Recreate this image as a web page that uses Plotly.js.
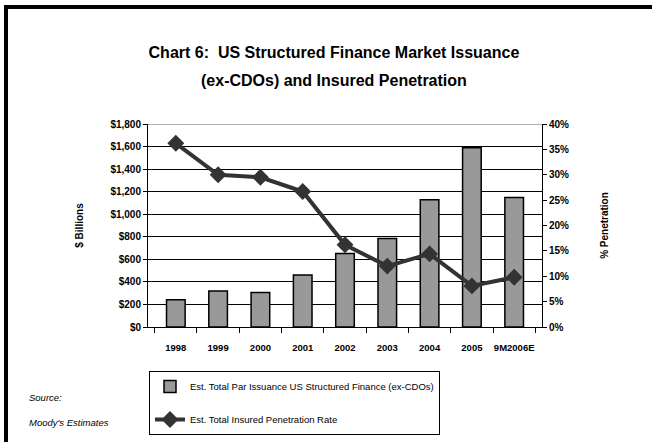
<!DOCTYPE html>
<html>
<head>
<meta charset="utf-8">
<script src="https://cdn.plot.ly/plotly-3.0.1.min.js"></script>
<style>
  html, body { margin: 0; padding: 0; background: #fff; }
  #wrap { position: relative; width: 652px; height: 442px; }
  #chart { width: 652px; height: 442px; }
  .bd { position: absolute; background: #000; pointer-events: none; }
</style>
</head>
<body>
<div id="wrap">
  <div id="chart"></div>
  <div class="bd" style="left:4px; top:5px; width:648px; height:4px;"></div>
  <div class="bd" style="left:4px; top:5px; width:4px; height:437px;"></div>
</div>
<script>
const categories = ["1998", "1999", "2000", "2001", "2002", "2003", "2004", "2005", "9M2006E"];
const issuance = [242, 320, 306, 462, 652, 785, 1128, 1590, 1148];
const penetration = [36.2, 30.0, 29.5, 26.7, 16.2, 12.0, 14.4, 8.1, 9.8];
const barName = "Est. Total Par Issuance US Structured Finance (ex-CDOs)";
const lineName = "Est. Total Insured Penetration Rate";

const F = "'Liberation Sans', Arial, sans-serif";

const traces = [
  {
    type: "bar", x: categories, y: issuance, name: barName, legendgroup: "a",
    marker: { color: "#999999", line: { color: "#000000", width: 1.5 } },
    hoverinfo: "x+y"
  },
  {
    type: "scatter", mode: "lines+markers", x: categories, y: penetration, name: lineName,
    legendgroup: "b", yaxis: "y2",
    line: { color: "#333333", width: 4 },
    marker: { symbol: "diamond", size: 13, color: "#333333" }
  }
];

const layout = {
  width: 652, height: 442,
  margin: { l: 148, r: 110, t: 124, b: 115 },
  paper_bgcolor: "#ffffff", plot_bgcolor: "#ffffff",
  font: { family: F, color: "#000000", size: 10 },
  bargap: 0.56,
  showlegend: true,
  title: {
    text: "<b>Chart 6:&nbsp; US Structured Finance Market Issuance</b>",
    font: { family: F, size: 16, color: "#000000" },
    xref: "paper", x: 0.472, xanchor: "center",
    yref: "container", y: 1 - 52 / 442, yanchor: "middle"
  },
  annotations: [
    { text: "<b>(ex-CDOs) and Insured Penetration</b>", xref: "paper", yref: "paper",
      x: 0.472, y: (327 - 80) / 203, xanchor: "center", yanchor: "middle", showarrow: false,
      font: { family: F, size: 16, color: "#000000" } },
    { text: "<i>Source:</i>", xref: "paper", yref: "paper",
      x: (27 - 148) / 394, y: (327 - 397) / 203, xanchor: "left", yanchor: "middle",
      showarrow: false, font: { family: F, size: 9.5 } },
    { text: "<i>Moody's Estimates</i>", xref: "paper", yref: "paper",
      x: (27 - 148) / 394, y: (327 - 422) / 203, xanchor: "left", yanchor: "middle",
      showarrow: false, font: { family: F, size: 9.5 } }
  ],
  shapes: [
    { type: "line", xref: "paper", yref: "y", x0: 0, x1: 1, y0: 1800, y1: 1800,
      line: { color: "#999999", width: 1.5 }, layer: "below" }
  ],
  xaxis: {
    type: "category", tickangle: 0,
    tickson: "boundaries", ticks: "outside", ticklen: 5, tickcolor: "#000", tickwidth: 1,
    ticklabelstandoff: 12,
    showline: true, linecolor: "#000", linewidth: 1,
    showgrid: false,
    tickfont: { family: F, size: 9.5, weight: "bold" }
  },
  yaxis: {
    range: [0, 1800], dtick: 200, tickprefix: "$", tickformat: ",",
    ticks: "outside", ticklen: 4, tickcolor: "#000",
    showline: true, linecolor: "#000", linewidth: 1,
    showgrid: true, gridcolor: "#000000", gridwidth: 1,
    zeroline: false,
    tickfont: { family: F, size: 10, weight: "bold" },
    title: { text: "<b>$ Billions</b>", font: { family: F, size: 10 }, standoff: 24 },
    fixedrange: true
  },
  yaxis2: {
    range: [0, 40], dtick: 5, ticksuffix: "%",
    overlaying: "y", side: "right",
    ticks: "outside", ticklen: 4, tickcolor: "#000",
    showline: true, linecolor: "#000", linewidth: 1,
    showgrid: false, zeroline: false,
    tickfont: { family: F, size: 10, weight: "bold" },
    title: { text: "<b>% Penetration</b>", font: { family: F, size: 10 }, standoff: 32 },
    fixedrange: true
  },
  legend: {
    x: (149 - 148) / 394, xanchor: "left",
    yref: "container", y: (442 - 371) / 442, yanchor: "top",
    bordercolor: "#000000", borderwidth: 1, bgcolor: "#ffffff",
    traceorder: "grouped", tracegroupgap: 14,
    itemwidth: 30,
    font: { family: F, size: 9.5, color: "#000" }
  }
};

Plotly.newPlot("chart", traces, layout, { displayModeBar: false, staticPlot: true });
</script>
</body>
</html>
